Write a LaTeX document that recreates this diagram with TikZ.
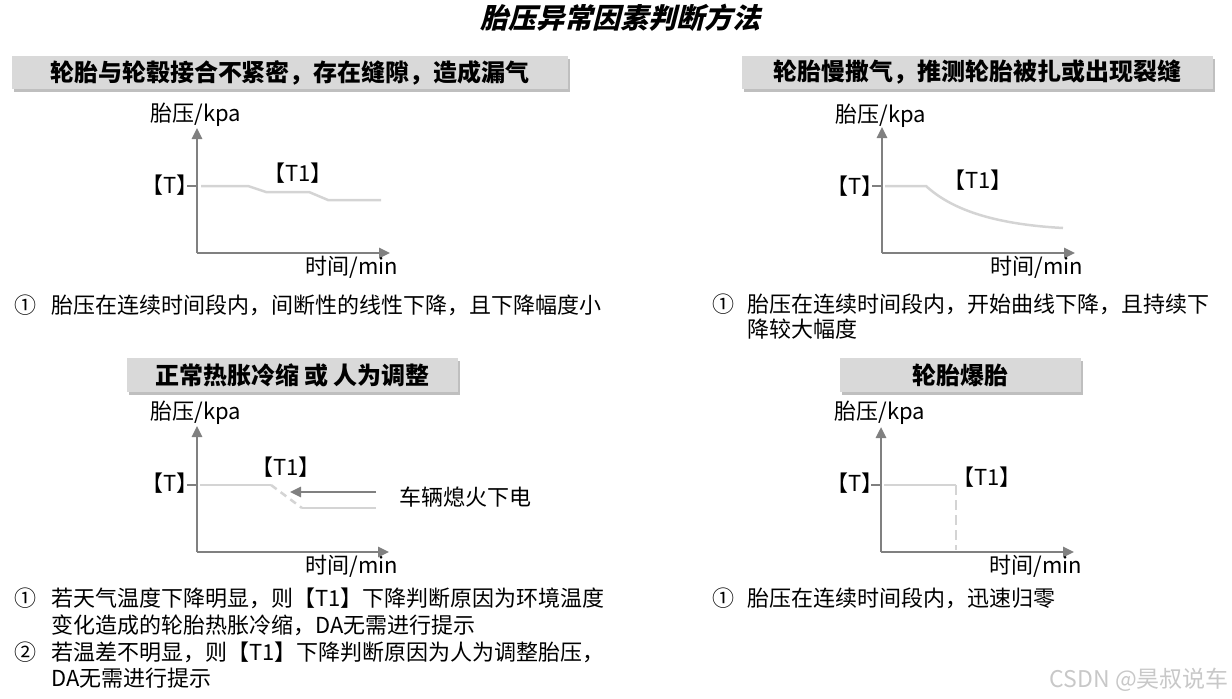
\documentclass[tikz,border=0pt]{standalone}
\usepackage{fontspec}
\setmainfont{Noto Sans CJK SC}
\newfontfamily\titlefont{Noto Sans CJK SC}[UprightFeatures={FakeSlant=0.25}, BoldFeatures={FakeSlant=0.25}]
\usetikzlibrary{arrows.meta,shadows}
\definecolor{axisgray}{HTML}{808080}
\definecolor{datagray}{HTML}{D4D4D4}
\definecolor{hdrfill}{HTML}{D9D9D9}
\definecolor{wmgray}{HTML}{C8C8C8}
\tikzset{
  axisline/.style={draw=axisgray, line width=2.5pt, -{Triangle[length=11pt,width=10pt]}},
  tickline/.style={draw=axisgray, line width=2pt},
  dataline/.style={draw=datagray, line width=2.5pt},
  hdrbox/.style={draw=none, fill=hdrfill, drop shadow={shadow xshift=1.5pt, shadow yshift=-3pt, opacity=0.5}, font=\fontsize{24}{28}\selectfont\bfseries, inner sep=0pt},
  lbl/.style={font=\fontsize{22}{26}\selectfont, inner sep=0pt},
  bodytxt/.style={font=\fontsize{22}{26}\selectfont, inner sep=0pt, anchor=west},
}
\begin{document}
\begin{tikzpicture}[x=1pt,y=-1pt]
\useasboundingbox (0,0) rectangle (1232,699);
% title
\node[font=\titlefont\fontsize{28}{32}\selectfont\bfseries, inner sep=0pt] (title) at (620,18) {胎压异常因素判断方法};

% headers
\node[hdrbox, minimum width=556pt, minimum height=33pt] (h1) at (290,72.5) {轮胎与轮毂接合不紧密，存在缝隙，造成漏气};
\node[hdrbox, minimum width=471pt, minimum height=33pt] (h2) at (977.5,72.5) {轮胎慢撒气，推测轮胎被扎或出现裂缝};
\node[hdrbox, minimum width=331pt, minimum height=34pt] (h3) at (292.5,375) {正常热胀冷缩 或 人为调整};
\node[hdrbox, minimum width=241pt, minimum height=34pt] (h4) at (960.5,375) {轮胎爆胎};

% ---------- chart 1 ----------
\coordinate (o1) at (197,253);
\coordinate (y1) at (197,128);
\coordinate (x1) at (390,253);
\draw[axisline] (o1) -- (y1);
\draw[axisline] (o1) -- (x1);
\coordinate (t1a) at (187,186);
\coordinate (t1b) at (197,186);
\draw[tickline] (t1a) -- (t1b);
\draw[dataline] (201,186) -- (248,186) -- (266,192) -- (309,192) -- (328,200) -- (381,200);
\node[lbl] (ylab1) at (196,115) {胎压/kpa};
\node[lbl] (tlab1) at (170,185) {【T】};
\node[lbl] (t1lab1) at (298,173) {【T1】};
\node[lbl] (xlab1) at (352,267) {时间/min};
\node[lbl] (n1c) at (25,305) {①};
\node[bodytxt] (n1t) at (51,305) {胎压在连续时间段内，间断性的线性下降，且下降幅度小};

% ---------- chart 2 ----------
\coordinate (o2) at (882,253);
\coordinate (y2) at (882,127);
\coordinate (x2) at (1075,253);
\draw[axisline] (o2) -- (y2);
\draw[axisline] (o2) -- (x2);
\coordinate (t2a) at (872,186);
\coordinate (t2b) at (882,186);
\draw[tickline] (t2a) -- (t2b);
\draw[dataline] (885,186) -- (926,186) .. controls (950,208) and (990,224) .. (1063,228);
\node[lbl] (ylab2) at (881,116) {胎压/kpa};
\node[lbl] (tlab2) at (855,186) {【T】};
\node[lbl] (t1lab2) at (978,180) {【T1】};
\node[lbl] (xlab2) at (1037,267) {时间/min};
\node[lbl] (n2c) at (723,304) {①};
\node[bodytxt] (n2t) at (747,304) {胎压在连续时间段内，开始曲线下降，且持续下};
\node[bodytxt] (n2t2) at (747,329) {降较大幅度};

% ---------- chart 3 ----------
\coordinate (o3) at (197,552);
\coordinate (y3) at (197,426);
\coordinate (x3) at (389,552);
\draw[axisline] (o3) -- (y3);
\draw[axisline] (o3) -- (x3);
\coordinate (t3a) at (187,485);
\coordinate (t3b) at (197,485);
\draw[tickline] (t3a) -- (t3b);
\draw[dataline] (200,485) -- (271,485);
\draw[dataline, dash pattern=on 7pt off 5pt] (271,485) -- (302,508);
\draw[dataline] (302,508) -- (376,508);
\coordinate (ar3s) at (376,492);
\coordinate (ar3e) at (290,492);
\draw[axisline] (ar3s) -- (ar3e);
\node[lbl] (ylab3) at (196,413) {胎压/kpa};
\node[lbl] (tlab3) at (170,483) {【T】};
\node[lbl] (t1lab3) at (286,467) {【T1】};
\node[lbl] (xlab3) at (352,566) {时间/min};
\node[bodytxt] (off3) at (399,497) {车辆熄火下电};
\node[lbl] (n3c) at (25,598) {①};
\node[bodytxt] (n3t) at (51,598) {若天气温度下降明显，则【T1】下降判断原因为环境温度};
\node[bodytxt] (n3t2) at (51,625) {变化造成的轮胎热胀冷缩，DA无需进行提示};
\node[lbl] (n3d) at (25,652) {②};
\node[bodytxt] (n3t3) at (51,652) {若温差不明显，则【T1】下降判断原因为人为调整胎压，};
\node[bodytxt] (n3t4) at (51,678) {DA无需进行提示};

% ---------- chart 4 ----------
\coordinate (o4) at (881,552);
\coordinate (y4) at (881,427);
\coordinate (x4) at (1074,552);
\draw[axisline] (o4) -- (y4);
\draw[axisline] (o4) -- (x4);
\coordinate (t4a) at (871,485);
\coordinate (t4b) at (881,485);
\draw[tickline] (t4a) -- (t4b);
\draw[dataline] (884,485) -- (956,485);
\draw[dataline, dash pattern=on 10pt off 5pt] (956,485) -- (956,550);
\node[lbl] (ylab4) at (880,413) {胎压/kpa};
\node[lbl] (tlab4) at (855,483) {【T】};
\node[lbl] (t1lab4) at (987,477) {【T1】};
\node[lbl] (xlab4) at (1036,566) {时间/min};
\node[lbl] (n4c) at (723,598) {①};
\node[bodytxt] (n4t) at (747,598) {胎压在连续时间段内，迅速归零};

% watermark
\node[font=\fontsize{23}{26}\selectfont, text=wmgray, inner sep=0pt, anchor=east] (wm) at (1229,680) {CSDN @昊叔说车};
\end{tikzpicture}
\end{document}
